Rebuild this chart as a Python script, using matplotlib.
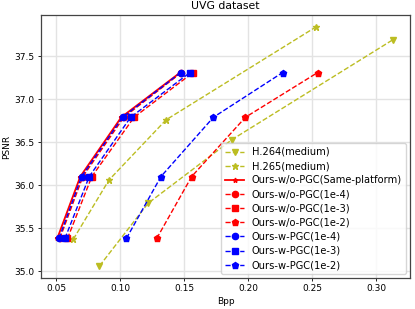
import matplotlib
matplotlib.use("Agg")
import matplotlib.pyplot as plt

# H.264 / H.265 anchors
h264_bpp = [0.084, 0.122, 0.1875, 0.313]
h264_psnr = [35.06, 35.79, 36.53, 37.69]
h265_bpp = [0.0635, 0.0914, 0.136, 0.253]
h265_psnr = [35.37, 36.06, 36.76, 37.84]

# ours
ours_psnr = [35.38, 36.10, 36.79, 37.31]
same_bpp = [0.051, 0.069, 0.101, 0.147]
wo_1e4_bpp = [0.053, 0.071, 0.103, 0.148]
wo_1e3_bpp = [0.059, 0.078, 0.111, 0.157]
wo_1e2_bpp = [0.1287, 0.156, 0.198, 0.2544]
w_1e4_bpp = [0.0523, 0.070, 0.102, 0.1474]
w_1e3_bpp = [0.057, 0.076, 0.1083, 0.1547]
w_1e2_bpp = [0.105, 0.132, 0.173, 0.227]

fig = plt.figure(figsize=(4.15, 3.09), dpi=100)
ax = fig.add_axes([41/415, 1-278/309, 369/415, 263/309])

lw = 1.0
ms = 4.5
ax.plot(h264_bpp, h264_psnr, '--v', color='#bcbd22', lw=lw, ms=ms, label='H.264(medium)')
ax.plot(h265_bpp, h265_psnr, '--*', color='#bcbd22', lw=lw, ms=ms, label='H.265(medium)')
ax.plot(same_bpp, ours_psnr, '-*', color='red', lw=1.3, ms=3.5, label='Ours-w/o-PGC(Same-platform)')
ax.plot(wo_1e4_bpp, ours_psnr, '--o', color='red', lw=lw, ms=ms, label='Ours-w/o-PGC(1e-4)')
ax.plot(wo_1e3_bpp, ours_psnr, '--s', color='red', lw=lw, ms=ms, label='Ours-w/o-PGC(1e-3)')
ax.plot(wo_1e2_bpp, ours_psnr, '--p', color='red', lw=lw, ms=ms, label='Ours-w/o-PGC(1e-2)')
ax.plot(w_1e4_bpp, ours_psnr, '--o', color='blue', lw=lw, ms=ms, label='Ours-w-PGC(1e-4)')
ax.plot(w_1e3_bpp, ours_psnr, '--s', color='blue', lw=lw, ms=ms, label='Ours-w-PGC(1e-3)')
ax.plot(w_1e2_bpp, ours_psnr, '--p', color='blue', lw=lw, ms=ms, label='Ours-w-PGC(1e-2)')

ax.set_xlim(0.0383, 0.3266)
ax.set_ylim(34.92, 37.98)
ax.set_xticks([0.05, 0.10, 0.15, 0.20, 0.25, 0.30])
ax.set_yticks([35.0, 35.5, 36.0, 36.5, 37.0, 37.5])
ax.tick_params(labelsize=6.5, width=0.6, length=2.3, pad=2.3)
for s in ax.spines.values():
    s.set_linewidth(0.9)
    s.set_color('#444444')
ax.grid(True, color='#e3e3e3', lw=1)
ax.set_axisbelow(True)
ax.set_xlabel('Bpp', fontsize=6.5, labelpad=2.5)
ax.set_ylabel('PSNR', fontsize=6.5, labelpad=2.5)
ax.set_title('UVG dataset', fontsize=7.8, pad=4)
ax.legend(loc='lower right', fontsize=7.1, handlelength=1.9, labelspacing=0.42,
          borderpad=0.4, handletextpad=0.8, borderaxespad=0.4)

fig.savefig('out.png', dpi=100)
